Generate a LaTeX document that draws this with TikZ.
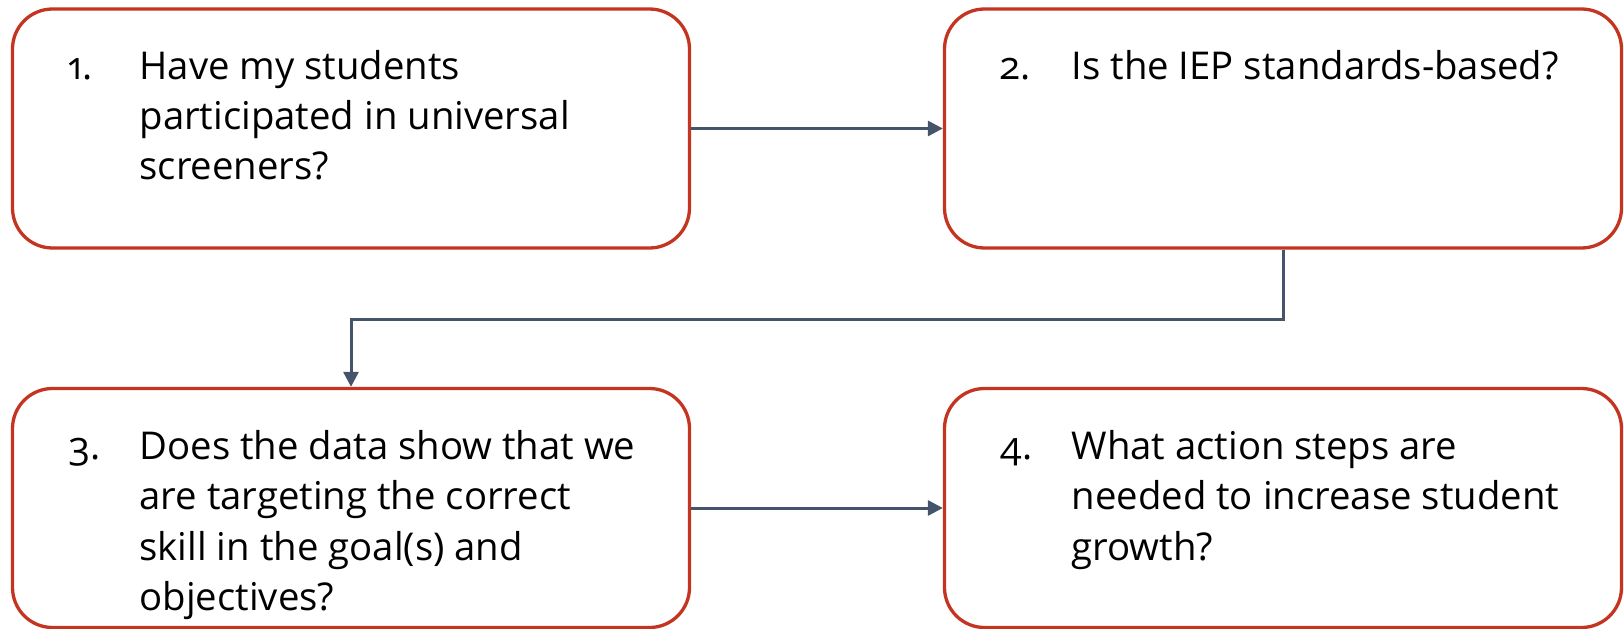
\documentclass[tikz,border=0pt]{standalone}
\usepackage{fontspec}
\setmainfont{Open Sans}[Numbers=OldStyle]
\usetikzlibrary{arrows.meta, positioning}
\definecolor{boxred}{RGB}{196,53,33}
\definecolor{slate}{RGB}{68,84,106}

\begin{document}
\begin{tikzpicture}[x=0.1mm,y=-0.1mm]
\tikzstyle{qbox} = [draw=boxred, line width=0.33mm, rounded corners=4mm, minimum width=67.7mm, minimum height=23.9mm, inner sep=0pt]
\tikzstyle{qtext} = [anchor=north west, inner sep=0pt, font=\fontsize{10.9}{14.3}\selectfont]
\tikzstyle{arrow} = [slate, line width=0.3mm, -{Triangle[length=1.5mm,width=1.5mm]}]

\useasboundingbox (0,0) rectangle (1624,629);

%Four boxes, one for each question
\node[qbox] (q1) at (351,128.5) {};
\node[qbox] (q2) at (1283,128.5) {};
\node[qbox] (q3) at (351,508) {};
\node[qbox] (q4) at (1283,508) {};

%The numbered questions
\node[qtext] (t1) at ([shift={(57,36)}]q1.north west) {\begin{tabular}{@{}p{7.1mm}@{}l@{}}
1. & Have my students\\ & participated in universal\\ & screeners?\end{tabular}};
\node[qtext] (t2) at ([shift={(57,36)}]q2.north west) {\begin{tabular}{@{}p{7.1mm}@{}l@{}}
2. & Is the IEP standards-based?\end{tabular}};
\node[qtext] (t3) at ([shift={(57,37)}]q3.north west) {\begin{tabular}{@{}p{7.1mm}@{}l@{}}
3. & Does the data show that we\\ & are targeting the correct\\ & skill in the goal(s) and\\ & objectives?\end{tabular}};
\node[qtext] (t4) at ([shift={(57,37)}]q4.north west) {\begin{tabular}{@{}p{7.1mm}@{}l@{}}
4. & What action steps are\\ & needed to increase student\\ & growth?\end{tabular}};

%Flow from one question to the next
\draw[arrow] (q1.east) -- (q2.west);
\draw[arrow] (q2.south) -- ++(0,70) -| (q3.north);
\draw[arrow] (q3.east) -- (q4.west);

\end{tikzpicture}
\end{document}
